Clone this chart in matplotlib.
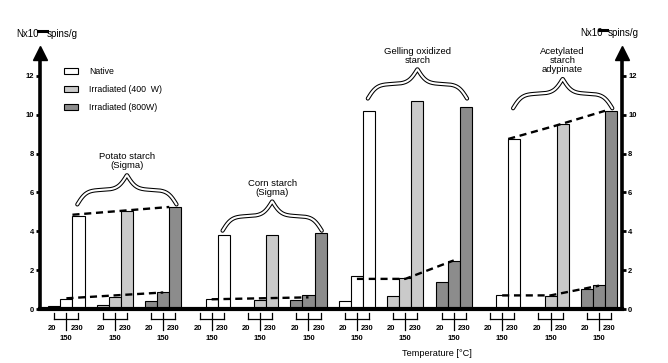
import numpy as np
import matplotlib
matplotlib.use("Agg")
import matplotlib.pyplot as plt
from matplotlib.lines import Line2D

plt.rcParams['font.family'] = ['Liberation Sans', 'DejaVu Sans']

groups = ["Potato starch\n(Sigma)", "Corn starch\n(Sigma)",
          "Gelling oxidized\nstarch", "Acetylated\nstarch\nadypinate"]
temps = ["20", "150", "230"]
series = ["Native", "Irradiated (400  W)", "Irradiated (800W)"]

# rows = starch, columns = 20 / 150 / 230 C
native = [[0.15, 0.5, 4.8], [0.0, 0.5, 3.8], [0.4, 1.7, 10.2], [0.0, 0.7, 8.75]]
irr400 = [[0.2, 0.6, 5.05], [0.0, 0.45, 3.8], [0.65, 1.6, 10.7], [0.0, 0.65, 9.5]]
irr800 = [[0.4, 0.85, 5.25], [0.45, 0.7, 3.9], [1.4, 2.45, 10.4], [1.05, 1.25, 10.2]]

# dashed trend lines (native, 400W, 800W)
trend150 = [[0.55, 0.7, 0.85], [0.5, 0.55, 0.6], [1.55, 1.55, 2.5], [0.7, 0.7, 1.2]]
trend230 = [[4.85, 5.05, 5.25], None, None, [8.75, 9.45, 10.2]]

colors = ["white", "#cacaca", "#8c8c8c"]
values = [native, irr400, irr800]


def brace(ax, x0, x1, y0, h, beta=22):
    t = np.linspace(0, 0.5, 150)
    half = 1 / (1 + np.exp(-beta * (t - t[0]))) + 1 / (1 + np.exp(-beta * (t - t[-1])))
    yy = np.concatenate([half, half[::-1]])
    yy = y0 + (yy - yy.min()) / (yy.max() - yy.min()) * h
    xx = np.linspace(x0, x1, len(yy))
    ax.plot(xx, yy, color="k", lw=3.0, clip_on=False, solid_capstyle="round")
    ax.plot(xx, yy, color="w", lw=1.5, clip_on=False, solid_capstyle="round")


fig = plt.figure(figsize=(6.68, 3.63), dpi=100)
ax = fig.add_axes([40 / 668, 54 / 363, 582 / 668, 256.5 / 363])
ax.set_xlim(-1.18, 46.9)
ax.set_ylim(0, 13.2)

for g in range(len(groups)):
    for p in range(3):
        x0 = 12 * g + 4 * p
        xs = x0 + np.arange(3)
        ax.bar(xs, values[p][g], width=1.0, color=colors[p], edgecolor="k",
               linewidth=0.8, label=series[p] if g == 0 else None, zorder=2)
        # temperature bracket under each triplet
        kw = dict(color="k", lw=0.9, clip_on=False)
        ax.plot([x0, x0 + 2], [-0.52, -0.52], **kw)
        ax.plot([x0, x0], [-0.2, -0.52], **kw)
        ax.plot([x0 + 2, x0 + 2], [-0.2, -0.52], **kw)
        ax.plot([x0 + 1, x0 + 1], [-0.2, -1.1], **kw)
        ax.text(x0 - 0.15, -0.98, temps[0], ha="center", va="center", fontsize=5.5, weight="bold")
        ax.text(x0 + 1.85, -0.98, temps[2], ha="center", va="center", fontsize=5.5, weight="bold")
        ax.text(x0 + 1, -1.5, temps[1], ha="center", va="center", fontsize=5.5, weight="bold")

    lx = 12 * g + 4 * np.arange(3) + 1
    ax.plot(lx, trend150[g], color="k", lw=1.7, dashes=(3, 2), zorder=3)
    if trend230[g] is not None:
        ux = 12 * g + 4 * np.arange(3) + 1.5
        ax.plot(ux, trend230[g], color="k", lw=1.7, dashes=(3, 2), zorder=3)

    top = max(max(v[g]) for v in values) + 0.13
    brace(ax, 12 * g + 1.9, 12 * g + 10.1, top, 1.5)
    ax.text(12 * g + 6, top + 1.75, groups[g], ha="center", va="bottom",
            fontsize=6.8, linespacing=1.0)

ax.spines["top"].set_visible(False)
ax.spines["left"].set_linewidth(2.6)
ax.spines["right"].set_linewidth(2.6)
ax.spines["bottom"].set_linewidth(3)
ax.set_xticks([])
ax.set_yticks(range(0, 13, 2))
ax.tick_params(axis="y", direction="out", length=3, width=2, pad=1.5,
               labelsize=5.5, right=True, labelright=True)
for lab in ax.get_yticklabels():
    lab.set_fontweight("bold")

for xe in ax.get_xlim():
    ax.plot([xe], [13.2], marker="^", ms=10.5, color="k", clip_on=False)

fig.legend(loc="upper left", bbox_to_anchor=(64 / 668, 1 - 67 / 363), frameon=False,
           fontsize=6.3, handlelength=1.55, handleheight=0.7, handletextpad=1.3,
           labelspacing=1.05, borderpad=0, borderaxespad=0)

# axis titles
fig.text(16 / 668, 1 - 34 / 363, "Nx10", fontsize=7, va="center")
fig.add_artist(Line2D([38 / 668, 47 / 668], [1 - 30.5 / 363] * 2, lw=2.2, color="k"))
fig.text(47 / 668, 1 - 34 / 363, "spins/g", fontsize=7, va="center")
fig.text(580 / 668, 1 - 33 / 363, "Nx10", fontsize=7, va="center")
fig.add_artist(Line2D([599 / 668, 607 / 668], [1 - 29.5 / 363] * 2, lw=2.2, color="k"))
fig.text(608 / 668, 1 - 33 / 363, "spins/g", fontsize=7, va="center")
fig.text(402 / 668, 1 - 353 / 363, "Temperature [°C]", fontsize=6.6, va="center")

fig.savefig("out.png", dpi=100)
